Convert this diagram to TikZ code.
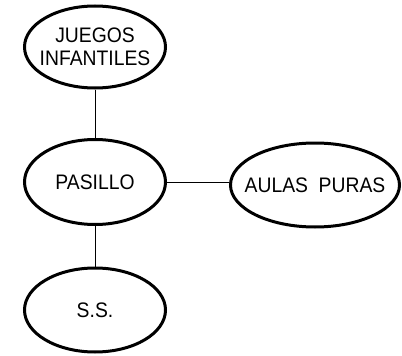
\documentclass[tikz,border=0pt]{standalone}
\usepackage{fontspec}
\setmainfont{Liberation Sans}[FakeStretch=0.92]
\usetikzlibrary{shapes.geometric}
\begin{document}
\begin{tikzpicture}[x=1pt,y=-1pt,
  place/.style={ellipse,draw,line width=3pt,inner xsep=-14pt,inner ysep=0pt,align=center,
    font=\fontsize{21}{23}\selectfont},
  link/.style={line width=0.8pt}]
\useasboundingbox (0,0) rectangle (402,356);
\node[place,minimum width=141pt,minimum height=82pt] (j) at (95,47) {JUEGOS\\INFANTILES};
\node[place,minimum width=141pt,minimum height=85pt] (p) at (95,182) {PASILLO};
\node[place,minimum width=169pt,minimum height=84pt] (a) at (315,185) {AULAS\ \ PURAS};
\node[place,minimum width=141pt,minimum height=84pt] (s) at (95,310) {S.S.};
\draw[link] (j) -- (p);
\draw[link] (p) -- (s);
\draw[link] (p.east) -- (a.west |- p.east);
\end{tikzpicture}
\end{document}
